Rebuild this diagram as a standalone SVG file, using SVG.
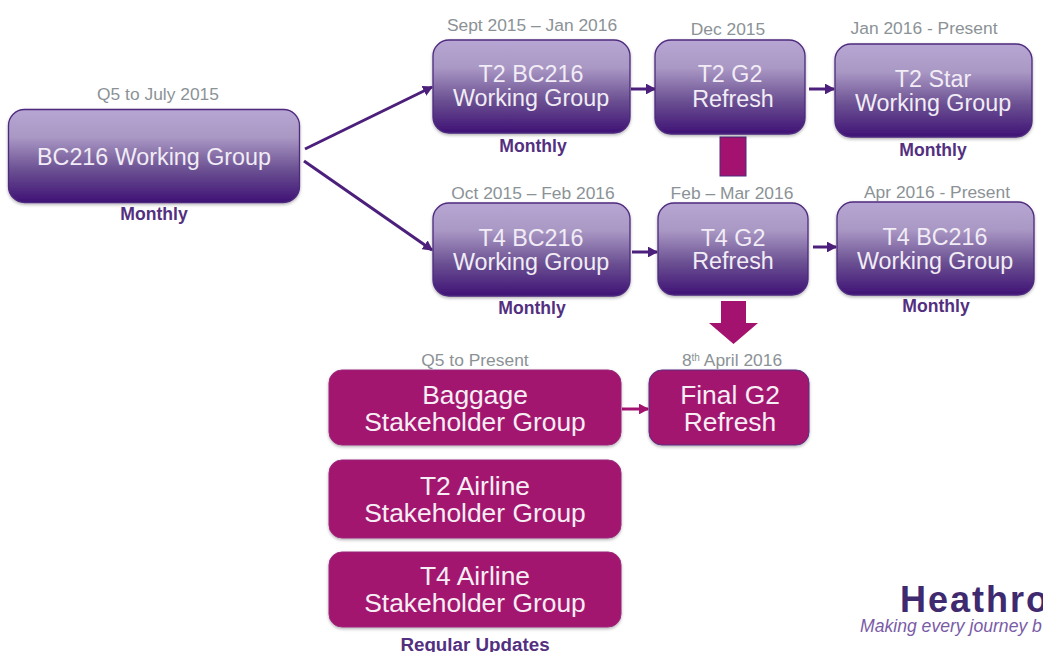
<svg xmlns="http://www.w3.org/2000/svg" width="1043" height="652" viewBox="0 0 1043 652">
<style>
text{font-family:"Liberation Sans",Arial,sans-serif;text-anchor:middle}
.p{fill:url(#pg);stroke:#4d2a7e;stroke-width:1.3;filter:url(#sh)}
.m{fill:#a3126f;stroke:#9a2a7c;stroke-width:1;filter:url(#sh)}
.t{fill:#f1ecf5;font-size:23.300px}
.u{fill:#f6eef4;font-size:26.400px}
.d{fill:#8b9296;font-size:17.400px}
.f{fill:#53307f;font-size:17.600px;font-weight:bold}
.c{fill:none;stroke:#4d1f7c;stroke-width:3}
</style>
<defs>
<linearGradient id="pg" x1="0" y1="0" x2="0" y2="1"><stop offset="0" stop-color="#b7a5d3"/><stop offset=".3" stop-color="#a997c4"/><stop offset=".65" stop-color="#6b5092"/><stop offset="1" stop-color="#3f1275"/></linearGradient>
<filter id="sh" x="-5%" y="-5%" width="110%" height="115%"><feDropShadow dx="0" dy="1.5" stdDeviation="1.5" flood-color="#000" flood-opacity=".3"/></filter>
<marker id="a" markerWidth="3.500" markerHeight="3.600" refX="3" refY="1.800" orient="auto" markerUnits="strokeWidth"><path d="M0 0L3.400 1.800L0 3.600z" fill="#4d1f7c"/></marker>
<marker id="b" markerWidth="3.500" markerHeight="3.600" refX="3" refY="1.800" orient="auto" markerUnits="strokeWidth"><path d="M0 0L3.400 1.800L0 3.600z" fill="#a3126f"/></marker>
</defs>
<g id="connectors">
<path class="c" marker-end="url(#a)" d="M305 149L432 87"/>
<path class="c" marker-end="url(#a)" d="M304 161L432 250"/>
<path class="c" marker-end="url(#a)" d="M631 89L655 89"/>
<path class="c" marker-end="url(#a)" d="M809 89L834 89"/>
<path class="c" marker-end="url(#a)" d="M632 252L657 252"/>
<path class="c" marker-end="url(#a)" d="M813 247L836 247"/>
<path d="M622 409L648 409" fill="none" stroke="#a3126f" stroke-width="3" marker-end="url(#b)"/>
<rect x="720" y="137" width="26" height="39" fill="#a3126f" stroke="#4d2a7e"/>
<path d="M721 301H746V323H758L733.500 344L709 323H721Z" fill="#a3126f"/>
</g>
<g id="n1"><rect class="p" x="8.500" y="109.500" width="291" height="93" rx="16"/><text class="t" x="154" y="165">BC216 Working Group</text><text class="d" x="158" y="100">Q5 to July 2015</text><text class="f" x="154" y="220">Monthly</text></g>
<g id="n2"><rect class="p" x="433" y="40" width="197" height="93" rx="16"/><text class="t" x="531" y="82">T2 BC216</text><text class="t" x="531" y="106">Working Group</text><text class="d" x="532" y="31">Sept 2015 – Jan 2016</text><text class="f" x="533" y="152">Monthly</text></g>
<g id="n3"><rect class="p" x="655" y="40" width="150" height="94" rx="16"/><text class="t" x="730" y="82">T2 G2</text><text class="t" x="733" y="107">Refresh</text><text class="d" x="728" y="35">Dec 2015</text></g>
<g id="n4"><rect class="p" x="835" y="44" width="197" height="93" rx="16"/><text class="t" x="933" y="87">T2 Star</text><text class="t" x="933" y="111">Working Group</text><text class="d" x="924" y="34">Jan 2016 - Present</text><text class="f" x="933" y="156">Monthly</text></g>
<g id="n5"><rect class="p" x="433" y="203" width="197" height="93" rx="16"/><text class="t" x="531" y="246">T4 BC216</text><text class="t" x="531" y="270">Working Group</text><text class="d" x="533" y="199">Oct 2015 – Feb 2016</text><text class="f" x="532" y="314">Monthly</text></g>
<g id="n6"><rect class="p" x="658" y="203" width="150" height="92" rx="16"/><text class="t" x="733" y="246">T4 G2</text><text class="t" x="733" y="269">Refresh</text><text class="d" x="732" y="199">Feb – Mar 2016</text></g>
<g id="n7"><rect class="p" x="837" y="202" width="197" height="93" rx="16"/><text class="t" x="935" y="245">T4 BC216</text><text class="t" x="935" y="269">Working Group</text><text class="d" x="937" y="198">Apr 2016 - Present</text><text class="f" x="936" y="312">Monthly</text></g>
<g id="n8"><rect class="m" x="329" y="370" width="292" height="75" rx="13"/><text class="u" x="475" y="404">Baggage</text><text class="u" x="475" y="431">Stakeholder Group</text><text class="d" x="475" y="366">Q5 to Present</text></g>
<g id="n9"><rect class="m" x="649" y="370" width="160" height="75" rx="13" style="stroke:#5a2f80"/><text class="u" x="730" y="404">Final G2</text><text class="u" x="730" y="431">Refresh</text><text class="d" x="732" y="366">8<tspan font-size="10" dy="-5">th</tspan><tspan dy="5"> April 2016</tspan></text></g>
<g id="n10"><rect class="m" x="329" y="460" width="292" height="78" rx="13"/><text class="u" x="475" y="495">T2 Airline</text><text class="u" x="475" y="522">Stakeholder Group</text></g>
<g id="n11"><rect class="m" x="329" y="552" width="292" height="75" rx="13"/><text class="u" x="475" y="585">T4 Airline</text><text class="u" x="475" y="612">Stakeholder Group</text><text class="f" x="475" y="651" style="font-size:18.800px">Regular Updates</text></g>
<g id="logo"><text x="900" y="612" style="text-anchor:start;font-size:36px;font-weight:bold;letter-spacing:2px" fill="#3f2a70">Heathro</text><text x="860" y="632" style="text-anchor:start;font-size:17.600px;font-style:italic" fill="#7a5ba6">Making every journey b</text></g>
</svg>
